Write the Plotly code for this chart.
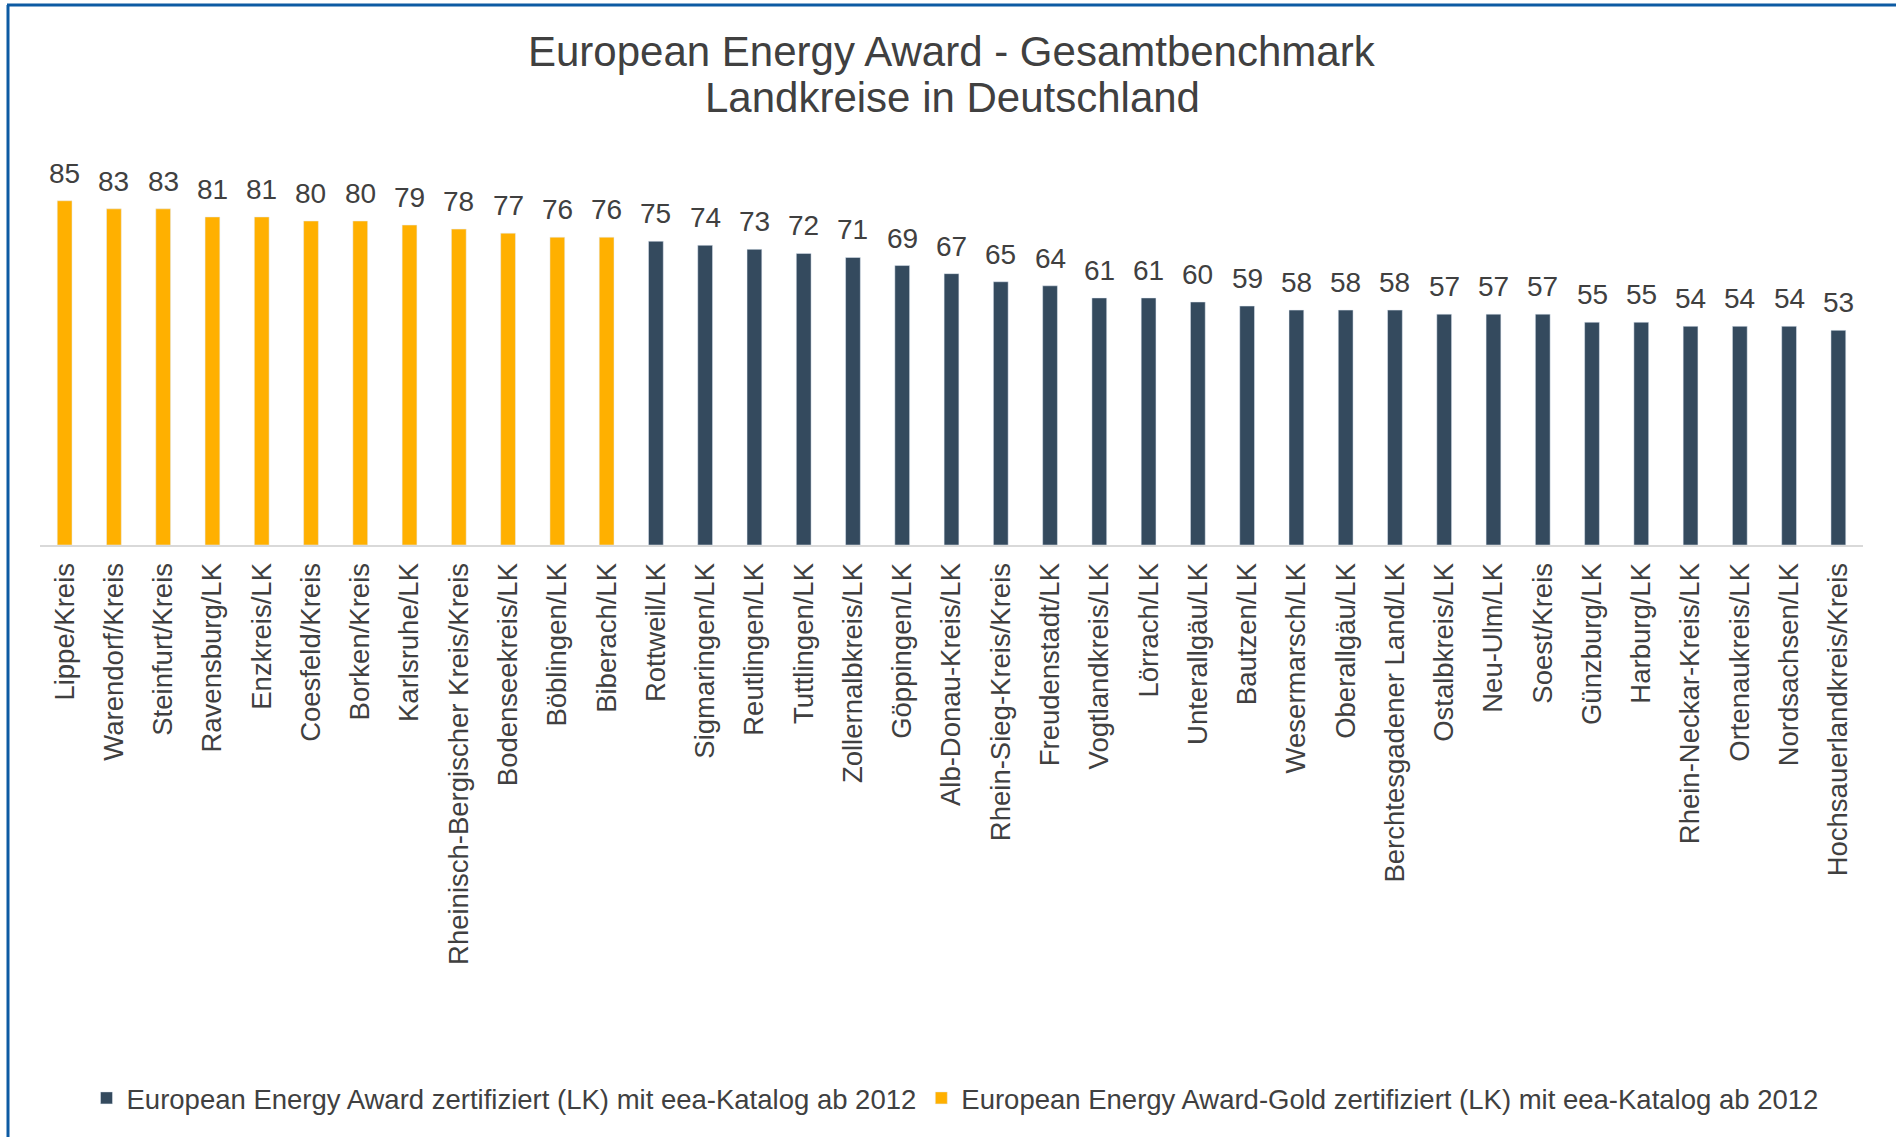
import plotly.graph_objects as go

categories = [
    "Lippe/Kreis", "Warendorf/Kreis", "Steinfurt/Kreis", "Ravensburg/LK", "Enzkreis/LK",
    "Coesfeld/Kreis", "Borken/Kreis", "Karlsruhe/LK", "Rheinisch-Bergischer Kreis/Kreis",
    "Bodenseekreis/LK", "Böblingen/LK", "Biberach/LK", "Rottweil/LK", "Sigmaringen/LK",
    "Reutlingen/LK", "Tuttlingen/LK", "Zollernalbkreis/LK", "Göppingen/LK",
    "Alb-Donau-Kreis/LK", "Rhein-Sieg-Kreis/Kreis", "Freudenstadt/LK", "Vogtlandkreis/LK",
    "Lörrach/LK", "Unterallgäu/LK", "Bautzen/LK", "Wesermarsch/LK", "Oberallgäu/LK",
    "Berchtesgadener Land/LK", "Ostalbkreis/LK", "Neu-Ulm/LK", "Soest/Kreis",
    "Günzburg/LK", "Harburg/LK", "Rhein-Neckar-Kreis/LK", "Ortenaukreis/LK",
    "Nordsachsen/LK", "Hochsauerlandkreis/Kreis",
]
values = [85, 83, 83, 81, 81, 80, 80, 79, 78, 77, 76, 76, 75, 74, 73, 72, 71, 69, 67,
          65, 64, 61, 61, 60, 59, 58, 58, 58, 57, 57, 57, 55, 55, 54, 54, 54, 53]
gold_flags = [True] * 12 + [False] * 25

series_std = "European Energy Award zertifiziert (LK) mit eea-Katalog ab 2012"
series_gold = "European Energy Award-Gold zertifiziert (LK) mit eea-Katalog ab 2012"
title_lines = ["European Energy Award - Gesamtbenchmark", "Landkreise in Deutschland"]

DARK = "#344A5E"
GOLD = "#FFB000"
TEXT = "#404040"
FONT = "Arial, Liberation Sans, sans-serif"

std_vals = [None if g else v for v, g in zip(values, gold_flags)]
gold_vals = [v if g else None for v, g in zip(values, gold_flags)]

fig = go.Figure()
for vals, name, col in [(std_vals, series_std, DARK), (gold_vals, series_gold, GOLD)]:
    fig.add_trace(go.Bar(
        x=categories, y=vals, name=name, marker_color=col, cliponaxis=False,
    ))

W, H = 1896, 1137
# plot area in page pixels: x 40..1863, y 140..545
L = 40
R = W - 1863
T = 140
B = H - 545
pw = W - L - R
ph = H - T - B


def px_x(px):
    return (px - L) / pw


def px_y(py):
    return (H - B - py) / ph


annotations = []
for line, py in zip(title_lines, [51, 97]):
    annotations.append(dict(
        text=line, xref="paper", yref="paper", x=px_x(952), y=px_y(py),
        xanchor="center", yanchor="middle", showarrow=False,
        font=dict(size=42, color=TEXT, family=FONT),
    ))
# data labels, placed on the data scale above each bar
for cat, v in zip(categories, values):
    annotations.append(dict(
        text=str(v), x=cat, y=v, xref="x", yref="y",
        xanchor="center", yanchor="bottom", yshift=10, showarrow=False,
        font=dict(size=28, color=TEXT, family=FONT),
    ))

fig.update_layout(
    width=W, height=H,
    margin=dict(l=L, r=R, t=T, b=B),
    paper_bgcolor="white", plot_bgcolor="white",
    barmode="overlay", bargap=0.7,
    font=dict(family=FONT, color=TEXT),
    annotations=annotations,
    showlegend=True,
    legend=dict(
        orientation="h", x=px_x(955), xanchor="center", xref="paper",
        y=px_y(1098), yanchor="middle",
        font=dict(size=27.5, color=TEXT, family=FONT),
        traceorder="normal",
    ),
    xaxis=dict(
        type="category", tickangle=-90, showgrid=False, zeroline=False,
        showline=True, linecolor="#D9D9D9", linewidth=2, ticks="",
        tickfont=dict(size=27.5, color=TEXT, family=FONT),
        ticklabelstandoff=5,
    ),
    yaxis=dict(range=[0, 100], visible=False, showgrid=False, zeroline=False),
    shapes=[
        dict(type="line", xref="paper", yref="paper",
             x0=px_x(7), x1=px_x(1900), y0=px_y(5), y1=px_y(5),
             line=dict(color="#0D5BA3", width=3)),
        dict(type="line", xref="paper", yref="paper",
             x0=px_x(8), x1=px_x(8), y0=px_y(5), y1=px_y(1140),
             line=dict(color="#0D5BA3", width=3)),
    ],
)

fig.write_html("out.html", config={"displayModeBar": False},
               post_script="document.body.style.margin='0';")
